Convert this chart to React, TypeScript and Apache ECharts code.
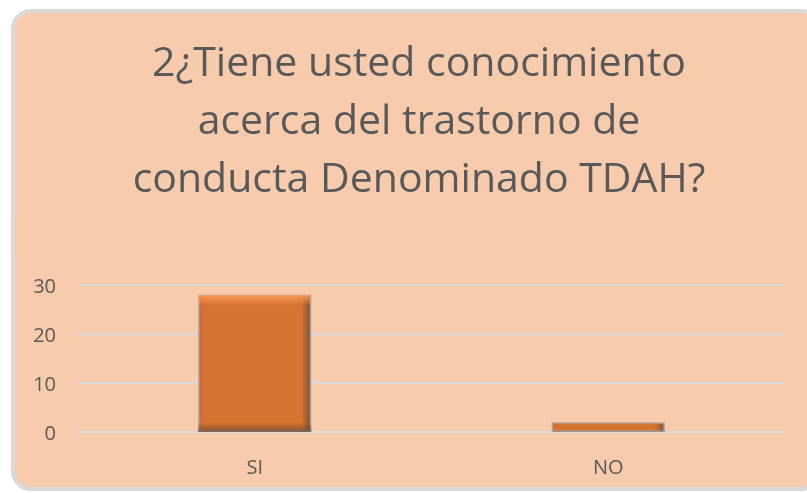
import React, { useEffect, useRef } from "react";
import * as echarts from "echarts";

const categories = ["SI", "NO"];
const values = [28, 2];
const yTicks = [0, 10, 20, 30];
const titleLines = [
  "2¿Tiene usted conocimiento",
  "acerca del trastorno de",
  "conducta Denominado TDAH?",
];

export default function App() {
  const ref = useRef<HTMLDivElement>(null);
  useEffect(() => {
    if (!ref.current) return;
    const chart = echarts.init(ref.current, undefined, { renderer: "svg" });
    const font = "'Open Sans', 'Liberation Sans', sans-serif";
    chart.setOption({
      animation: false,
      graphic: [
        {
          type: "rect",
          z: -10,
          silent: true,
          shape: { x: 13, y: 11, width: 806, height: 478, r: 18 },
          style: { fill: "#F8CBAD", stroke: "#D9D9D9", lineWidth: 4 },
        },
      ],
      title: {
        text: titleLines.join("\n"),
        left: 414,
        top: 26,
        textAlign: "center",
        textStyle: {
          fontFamily: font,
          fontSize: 41,
          fontWeight: "normal",
          color: "#595959",
          lineHeight: 58,
        },
      },
      grid: { left: 78, right: 22, top: 285, bottom: 61, containLabel: false },
      xAxis: {
        type: "category",
        data: categories,
        axisLine: { show: true, lineStyle: { color: "#D9D9D9", width: 2 } },
        axisTick: { show: false },
        axisLabel: { color: "#595959", fontSize: 20, fontFamily: font, margin: 24 },
      },
      yAxis: {
        type: "value",
        min: yTicks[0],
        max: yTicks[yTicks.length - 1],
        interval: 10,
        axisLine: { show: false },
        axisTick: { show: false },
        axisLabel: { color: "#595959", fontSize: 20, fontFamily: font, margin: 22 },
        splitLine: { lineStyle: { color: "#D9D9D9", width: 2 } },
      },
      series: [
        {
          type: "bar",
          data: values,
          barWidth: "32%",
          itemStyle: {
            color: {
              type: "linear",
              x: 0, y: 0, x2: 1, y2: 0,
              colorStops: [
                { offset: 0, color: "#D06A2B" },
                { offset: 0.06, color: "#D57331" },
                { offset: 0.92, color: "#D57331" },
                { offset: 1, color: "#7E5236" },
              ],
            },
            borderColor: "#A6A6A6",
            borderWidth: 1.5,
          },
        },
        {
          type: "bar",
          data: values,
          barWidth: "32%",
          barGap: "-100%",
          silent: true,
          itemStyle: {
            color: {
              type: "linear",
              x: 0, y: 0, x2: 0, y2: 1,
              colorStops: [
                { offset: 0, color: "rgba(255,160,90,0.85)" },
                { offset: 0.08, color: "rgba(255,160,90,0.0)" },
                { offset: 0.93, color: "rgba(90,60,40,0.0)" },
                { offset: 1, color: "rgba(90,60,40,0.6)" },
              ],
            },
            borderWidth: 0,
          },
        },
      ],
    });
    return () => chart.dispose();
  }, []);
  return (
    <div
      ref={ref}
      style={{ position: "fixed", left: 0, top: 0, width: 807, height: 493 }}
    />
  );
}
